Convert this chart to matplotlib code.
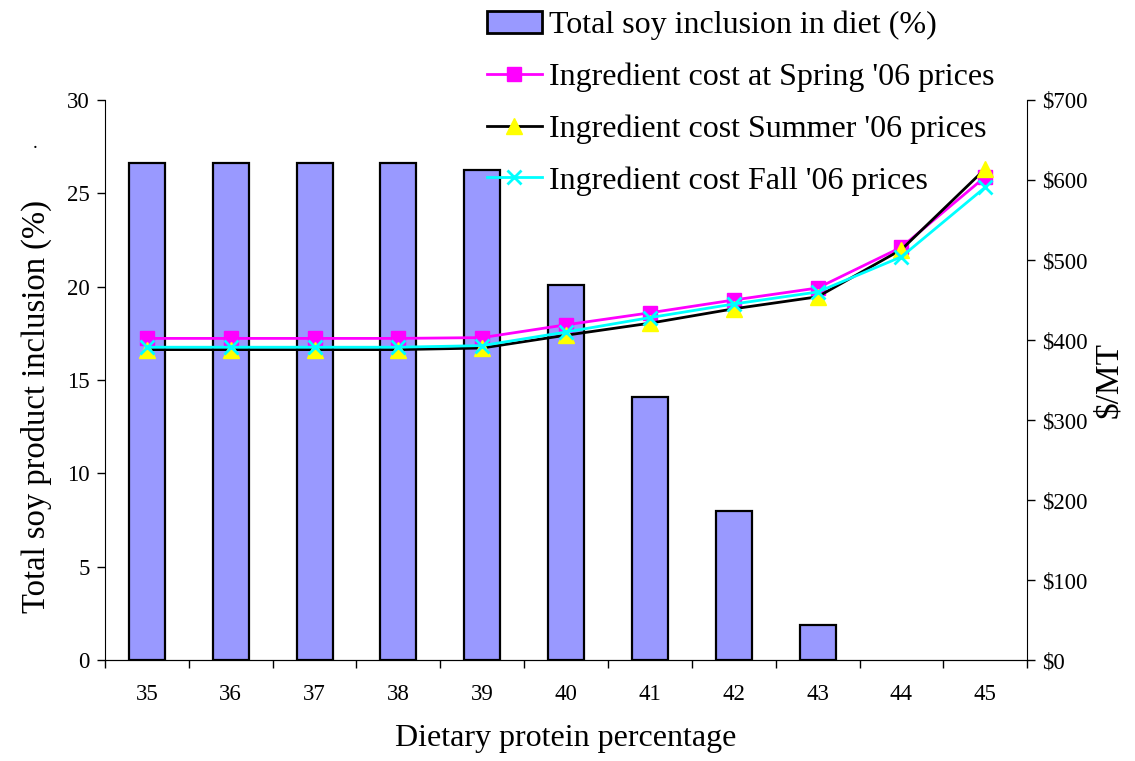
import matplotlib
matplotlib.use("Agg")
import matplotlib.pyplot as plt
from matplotlib.patches import Patch
from matplotlib.lines import Line2D
from matplotlib.ticker import FuncFormatter, FixedLocator, NullFormatter
import numpy as np

plt.rcParams['font.family'] = ['Liberation Serif', 'DejaVu Serif']

protein = [35, 36, 37, 38, 39, 40, 41, 42, 43, 44, 45]
soy_inclusion = [26.6, 26.6, 26.6, 26.6, 26.25, 20.1, 14.1, 8.0, 1.9, 0, 0]
cost_spring = [402, 402, 402, 402, 403, 419, 434, 450, 465, 516, 604]
cost_summer = [388, 388, 388, 388, 390, 406, 421, 439, 454, 513, 614]
cost_fall = [391, 391, 391, 391, 393, 410, 428, 445, 460, 504, 591]

bar_label = "Total soy inclusion in diet (%)"
spring_label = "Ingredient cost at Spring '06 prices"
summer_label = "Ingredient cost Summer '06 prices"
fall_label = "Ingredient cost Fall '06 prices"

fig = plt.figure(figsize=(11.35, 7.61), dpi=100)
ax = fig.add_axes([0.0925, 0.1327, 0.8125, 0.7359])
x = np.arange(len(protein))

# zero-height bars get no outline
edge_colors = ['black' if v > 0 else 'none' for v in soy_inclusion]
ax.bar(x, soy_inclusion, width=0.43, color='#9999FF', edgecolor=edge_colors,
       linewidth=1.6, zorder=2)
ax.set_xlim(-0.5, len(protein) - 0.5)
ax.set_ylim(0, 30)
ax.set_yticks(np.arange(0, 31, 5))
ax.set_xticks(x)
ax.set_xticklabels([str(p) for p in protein], fontsize=16.5)
ax.xaxis.set_minor_locator(FixedLocator(np.arange(-0.5, len(protein), 1.0)))
ax.xaxis.set_minor_formatter(NullFormatter())
ax.tick_params(axis='x', which='major', length=0, pad=17)
ax.tick_params(axis='x', which='minor', length=6, direction='out', width=1)
ax.tick_params(axis='y', labelsize=16.5, length=6, width=1, direction='out', pad=5)
ax.spines['top'].set_visible(False)
ax.spines['right'].set_visible(False)
ax.set_xlabel("Dietary protein percentage", fontsize=23, labelpad=14)
ax.set_ylabel("Total soy product inclusion (%)", fontsize=23.5)
ax.yaxis.set_label_coords(-0.058, 0.452)

ax2 = ax.twinx()
ax2.set_ylim(0, 700)
ax2.set_yticks(np.arange(0, 701, 100))
ax2.yaxis.set_major_formatter(FuncFormatter(lambda v, p: f"${v:.0f}"))
ax2.tick_params(axis='y', labelsize=16.5, length=6, width=1, direction='out', pad=5)
ax2.spines['top'].set_visible(False)
ax2.spines['left'].set_visible(False)
ax2.set_ylabel("$/MT", fontsize=24, labelpad=4)

ax2.plot(x, cost_spring, color='#FF00FF', lw=2, marker='s', markersize=10.5,
         markerfacecolor='#FF00FF', markeredgecolor='#FF00FF', zorder=3)
ax2.plot(x, cost_summer, color='black', lw=2, marker='^', markersize=11.5,
         markerfacecolor='#FFFF00', markeredgecolor='#FFFF00', zorder=4)
ax2.plot(x, cost_fall, color='#00FFFF', lw=2, marker='x', markersize=10.5,
         markeredgewidth=2, markeredgecolor='#00FFFF', zorder=5)

fig.text(0.031, 0.805, ".", fontsize=14, ha='center')

handles = [
    Patch(facecolor='#9999FF', edgecolor='black', linewidth=2),
    Line2D([], [], color='#FF00FF', lw=2, marker='s', markersize=10.5,
           markerfacecolor='#FF00FF', markeredgecolor='#FF00FF'),
    Line2D([], [], color='black', lw=2, marker='^', markersize=11.5,
           markerfacecolor='#FFFF00', markeredgecolor='#FFFF00'),
    Line2D([], [], color='#00FFFF', lw=2, marker='x', markersize=10.5,
           markeredgewidth=2, markeredgecolor='#00FFFF'),
]
labels = [bar_label, spring_label, summer_label, fall_label]
leg = fig.legend(handles, labels, loc='upper left', bbox_to_anchor=(0.418, 1.003),
                 frameon=False, fontsize=23, handlelength=1.7, handleheight=0.7,
                 handletextpad=0.25, labelspacing=0.70, borderaxespad=0)
leg.set_zorder(10)

fig.savefig("out.png", dpi=100)
